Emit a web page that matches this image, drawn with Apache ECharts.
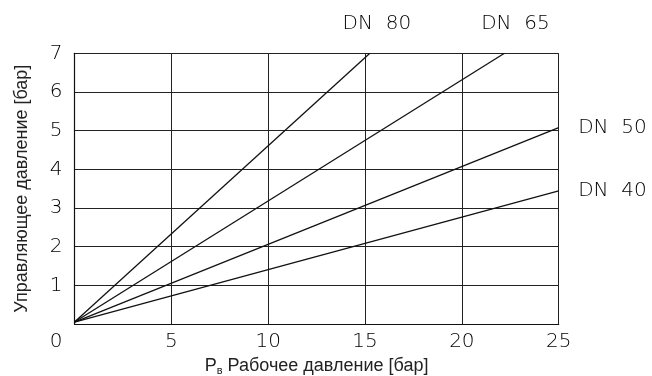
<!DOCTYPE html>
<html>
<head>
<meta charset="utf-8">
<script src="https://cdn.jsdelivr.net/npm/echarts@6/dist/echarts.min.js"></script>
<style>html,body{margin:0;padding:0;background:#fff}#c{width:652px;height:376px}</style>
</head>
<body>
<div id="c"></div>
<script>
const xTicks = [0, 5, 10, 15, 20, 25];
const yTicks = [0, 1, 2, 3, 4, 5, 6, 7];
const seriesNames = ['DN  80', 'DN  65', 'DN  50', 'DN  40'];
const dn80 = [[0, 0.05], [15.25, 7]];
const dn65 = [[0, 0.05], [22.2, 7]];
const dn50 = [[0, 0.05], [25, 5.08]];
const dn40 = [[0, 0.05], [25, 3.44]];

const tickFont = { fontFamily: 'DejaVu Sans', fontWeight: 200, fontSize: 20, color: '#000' };
const labelCfg = [
  { position: 'top', distance: 19, offset: [7, 0] },
  { position: 'top', distance: 19, offset: [11, 0] },
  { position: 'right', distance: 19, offset: [0, 0] },
  { position: 'right', distance: 19, offset: [0, 0] }
];
const allData = [dn80, dn65, dn50, dn40];

const chart = echarts.init(document.getElementById('c'));
chart.setOption({
  animation: false,
  grid: { left: 74.5, right: 93.3, top: 53.3, bottom: 52, containLabel: false, outerBoundsMode: 'none' },
  xAxis: {
    type: 'value', min: xTicks[0], max: xTicks[xTicks.length - 1], interval: 5,
    axisLine: { show: true, lineStyle: { color: '#111', width: 1.2 } },
    axisTick: { show: false },
    splitLine: { show: true, lineStyle: { color: '#222', width: 1 } },
    axisLabel: Object.assign({ margin: 8, formatter: v => v === 0 ? '' : String(v) }, tickFont),
    name: '{p|P}{s|в}{t| Рабочее давление [бар]}',
    nameLocation: 'middle', nameGap: 30,
    nameTextStyle: {
      fontFamily: 'Liberation Sans', fontSize: 18, color: '#222', verticalAlign: 'top',
      rich: {
        p: { fontFamily: 'Liberation Sans', fontSize: 18, color: '#222', lineHeight: 20, verticalAlign: 'top' },
        t: { fontFamily: 'Liberation Sans', fontSize: 18, color: '#222', lineHeight: 20, verticalAlign: 'top' },
        s: { fontFamily: 'Liberation Sans', fontSize: 11, color: '#222', lineHeight: 20, verticalAlign: 'top', padding: [9, 0, 0, 0] }
      }
    }
  },
  yAxis: {
    type: 'value', min: yTicks[0], max: yTicks[yTicks.length - 1], interval: 1,
    axisLine: { show: true, lineStyle: { color: '#111', width: 1.2 } },
    axisTick: { show: false },
    splitLine: { show: true, lineStyle: { color: '#222', width: 1 } },
    axisLabel: Object.assign({
      margin: 12,
      formatter: v => v === 0 ? '{z|0}' : String(v),
      rich: { z: Object.assign({ padding: [36, 0, 0, 0] }, tickFont) }
    }, tickFont),
    name: 'Управляющее давление [бар]',
    nameLocation: 'middle', nameGap: 43,
    nameTextStyle: { fontFamily: 'Liberation Sans', fontSize: 18, color: '#222' }
  },
  series: allData.map((d, i) => ({
    type: 'line', name: seriesNames[i], symbol: 'circle', symbolSize: 1, showSymbol: true,
    itemStyle: { color: 'rgba(0,0,0,0)' },
    lineStyle: { color: '#111', width: 1.3 },
    data: d.map((p, j) => j === d.length - 1 ? {
      value: p,
      label: Object.assign({ show: true, formatter: seriesNames[i], fontFamily: 'DejaVu Sans', fontWeight: 200, fontSize: 20, color: '#000' }, labelCfg[i])
    } : { value: p })
  }))
});
</script>
</body>
</html>
